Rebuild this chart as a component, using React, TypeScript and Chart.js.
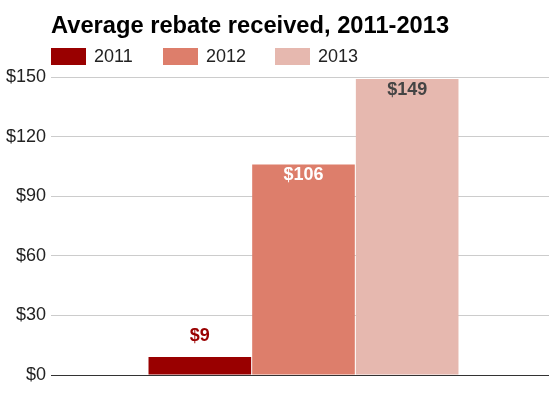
import React, { useEffect, useRef } from 'react';
import { Chart, registerables } from 'chart.js';

Chart.register(...registerables);

// ---- data ----
const categories = ['Average rebate'];
const seriesNames = ['2011', '2012', '2013'];
const values2011 = [9];
const values2012 = [106];
const values2013 = [149];
const yTicks = [0, 30, 60, 90, 120, 150];
const titleText = 'Average rebate received, 2011-2013';

// ---- styles ----
const FONT = '"Liberation Sans", Arial, Helvetica, sans-serif';
const barColors = ['#990000', '#dd7e6b', '#e6b8af'];
const insideLabelColors = ['#990000', '#ffffff', '#444444'];

const valueLabels = {
  id: 'valueLabels',
  afterDatasetsDraw(chart: any) {
    const ctx = chart.ctx;
    ctx.save();
    ctx.font = `bold 18px ${FONT}`;
    ctx.textAlign = 'center';
    ctx.textBaseline = 'middle';
    chart.data.datasets.forEach((ds: any, i: number) => {
      const meta = chart.getDatasetMeta(i);
      meta.data.forEach((el: any, j: number) => {
        const v = ds.data[j];
        const { x, y, base } = el.getProps(['x', 'y', 'base'], true);
        const inside = base - y > 40;
        ctx.fillStyle = inside ? insideLabelColors[i] : barColors[i];
        ctx.fillText('$' + v, x, inside ? y + 11 : y - 21);
      });
    });
    ctx.restore();
  },
};

export default function App() {
  const ref = useRef<HTMLCanvasElement>(null);

  useEffect(() => {
    const seriesValues = [values2011, values2012, values2013];
    const chart = new Chart(ref.current as HTMLCanvasElement, {
      type: 'bar',
      data: {
        labels: categories,
        datasets: seriesNames.map((name, i) => ({
          label: name,
          data: seriesValues[i],
          backgroundColor: barColors[i],
          borderWidth: 0,
          categoryPercentage: 0.6334,
          barPercentage: 0.99,
        })),
      },
      options: {
        responsive: false,
        animation: false,
        layout: { padding: { left: 0, top: 77, right: 3, bottom: 23 } },
        plugins: {
          title: { display: false },
          legend: { display: false },
          tooltip: { enabled: false },
        },
        scales: {
          x: {
            type: 'category',
            display: false,
            offset: true,
          },
          y: {
            min: 0,
            max: 150,
            afterBuildTicks: (scale: any) => {
              scale.ticks = yTicks.map((v) => ({ value: v }));
            },
            afterFit: (scale: any) => {
              scale.width = 58;
            },
            border: { display: false },
            grid: {
              drawTicks: true,
              tickLength: 7,
              lineWidth: 1,
              color: (c: any) => (c.tick && c.tick.value === 0 ? '#333333' : '#cccccc'),
              tickColor: (c: any) => (c.tick && c.tick.value === 0 ? '#333333' : '#cccccc'),
            },
            ticks: {
              padding: 5,
              color: '#222222',
              font: { family: FONT, size: 18 },
              callback: (v: any) => '$' + v,
            },
          },
        },
      },
      plugins: [valueLabels],
    } as any);
    return () => chart.destroy();
  }, []);

  return (
    <div
      style={{
        position: 'fixed',
        left: 0,
        top: 0,
        width: 552,
        height: 398,
        background: '#ffffff',
        fontFamily: FONT,
      }}
    >
      <canvas ref={ref} width={552} height={398} style={{ display: 'block', width: 552, height: 398 }} />
      <div
        style={{
          position: 'absolute',
          left: 51,
          top: 14.4,
          fontSize: 23.7,
          lineHeight: '23.7px',
          fontWeight: 'bold',
          color: '#000000',
          whiteSpace: 'nowrap',
        }}
      >
        {titleText}
      </div>
      <div style={{ position: 'absolute', left: 51, top: 47.5, display: 'flex' }}>
        {seriesNames.map((name, i) => (
          <div key={name} style={{ width: 112, height: 17, display: 'flex', alignItems: 'center' }}>
            <span style={{ display: 'inline-block', width: 35, height: 17, background: barColors[i] }} />
            <span style={{ marginLeft: 8, fontSize: 18, lineHeight: '18px', color: '#222222' }}>{name}</span>
          </div>
        ))}
      </div>
    </div>
  );
}
